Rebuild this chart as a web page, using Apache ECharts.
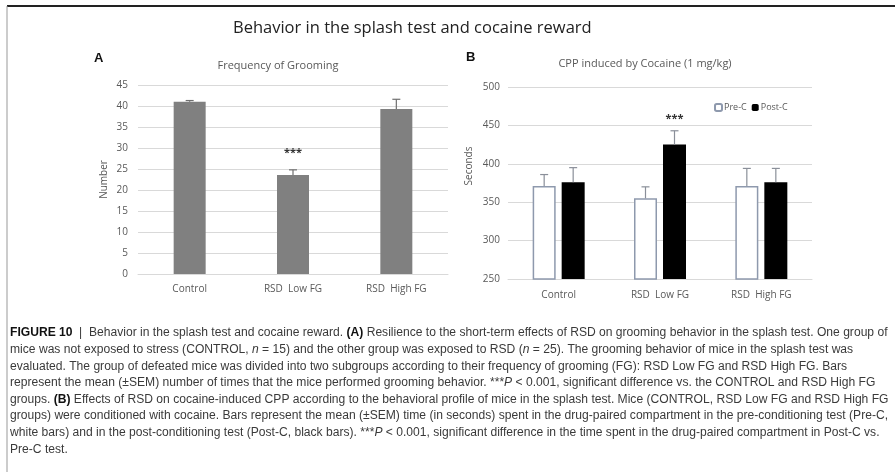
<!DOCTYPE html>
<html>
<head>
<meta charset="utf-8">
<title>Behavior in the splash test and cocaine reward</title>
<script src="https://cdn.jsdelivr.net/npm/echarts@6/dist/echarts.min.js"></script>
<style>
  html, body { margin: 0; padding: 0; background: #fff; }
  #chart { width: 895px; height: 472px; }
</style>
</head>
<body>
<div id="chart"></div>
<script>
  // data
  var categories = ["Control", "RSD  Low FG", "RSD  High FG"];
  var groomMean = [41, 23.6, 39.3];
  var groomSem = [0.3, 1.2, 2.3];
  var preC = [371, 355, 371];
  var preSem = [15, 15, 23];
  var postC = [376, 425, 376];
  var postSem = [19, 18, 18];
  var starsA = [null, "***", null];
  var starsB = [null, "***", null];

  var axisFont = "Open Sans";
  var labelColor = "#595959";
  var gridColor = "#d9d9d9";
  var barW = 23, barGapPx = 6;

  var caption = [
    "{b|FIGURE 10} {r| |  Behavior in the splash test and cocaine reward. }{b|(A)}{r| Resilience to the short-term effects of RSD on grooming behavior in the splash test. One group of}",
    "{r|mice was not exposed to stress (CONTROL, }{i|n}{r| = 15) and the other group was exposed to RSD (}{i|n}{r| = 25). The grooming behavior of mice in the splash test was}",
    "{r|evaluated. The group of defeated mice was divided into two subgroups according to their frequency of grooming (FG): RSD Low FG and RSD High FG. Bars}",
    "{r|represent the mean (±SEM) number of times that the mice performed grooming behavior. ***}{i|P}{r| < 0.001, significant difference vs. the CONTROL and RSD High FG}",
    "{r|groups. }{b|(B)}{r| Effects of RSD on cocaine-induced CPP according to the behavioral profile of mice in the splash test. Mice (CONTROL, RSD Low FG and RSD High FG}",
    "{r|groups) were conditioned with cocaine. Bars represent the mean (±SEM) time (in seconds) spent in the drug-paired compartment in the pre-conditioning test (Pre-C,}",
    "{r|white bars) and in the post-conditioning test (Post-C, black bars). ***}{i|P}{r| < 0.001, significant difference in the time spent in the drug-paired compartment in Post-C vs.}",
    "{r|Pre-C test.}"
  ];

  var capFont = "'Liberation Sans', sans-serif";
  var capSize = 12.5;
  var capRich = {
    r: { fontFamily: capFont, fontSize: capSize, fill: "#3a3a3a" },
    b: { fontFamily: capFont, fontSize: capSize, fontWeight: "bold", fill: "#111" },
    i: { fontFamily: capFont, fontSize: capSize, fontStyle: "italic", fill: "#3a3a3a" }
  };

  // the caption is set in a condensed face; squeeze Liberation Sans to the same line length
  var ctx = document.createElement("canvas").getContext("2d");
  ctx.font = capSize + "px 'Liberation Sans'";
  var plainFirst = caption[0].replace(/\{[a-z]\||\}/g, "");
  var capScale = 877 / ctx.measureText(plainFirst).width;

  var graphics = [
    { type: "line", shape: { x1: 7, y1: 6, x2: 895, y2: 6 }, style: { stroke: "#222", lineWidth: 2 } },
    { type: "line", shape: { x1: 7, y1: 6, x2: 7, y2: 472 }, style: { stroke: "#999", lineWidth: 1 } },
    { type: "text", left: 233, top: 20, style: { text: "Behavior in the splash test and cocaine reward", font: "16.5px 'Open Sans'", fill: "#222" } },
    { type: "text", left: 94, top: 52, style: { text: "A", font: "bold 13px 'Liberation Sans'", fill: "#111" } },
    { type: "text", left: 466, top: 51, style: { text: "B", font: "bold 13px 'Liberation Sans'", fill: "#111" } },
    { type: "text", x: 469, y: 166, rotation: Math.PI / 2, style: { text: "Seconds", font: "10px 'Open Sans'", fill: labelColor, align: "center", verticalAlign: "middle" } }
  ];
  caption.forEach(function (line, i) {
    graphics.push({
      type: "text", x: 10, y: 333 + i * 16.6, scaleX: capScale,
      style: { text: line, rich: capRich, verticalAlign: "middle" }
    });
  });

  // error bar drawn upward from the mean, with a cap
  function errorBar(means, sems, xOffset, color) {
    return function (params, api) {
      var i = params.dataIndex;
      var base = api.coord([i, means[i]]);
      var top = api.coord([i, means[i] + sems[i]]);
      var x = base[0] + xOffset;
      return {
        type: "group",
        children: [
          { type: "line", shape: { x1: x, y1: base[1], x2: x, y2: top[1] }, style: { stroke: color, lineWidth: 1.2 } },
          { type: "line", shape: { x1: x - 4, y1: top[1], x2: x + 4, y2: top[1] }, style: { stroke: color, lineWidth: 1.2 } }
        ]
      };
    };
  }

  function starLabel(stars, means, sems, xOffset, gap) {
    return function (params, api) {
      var i = params.dataIndex;
      if (!stars[i]) return null;
      var p = api.coord([i, means[i] + sems[i]]);
      return { type: "text", style: { text: stars[i], x: p[0] + xOffset, y: p[1] - gap, align: "center", verticalAlign: "middle", font: "bold 11px 'Open Sans'", fill: "#333" } };
    };
  }

  var chart = echarts.init(document.getElementById("chart"));
  var half = (barW + barGapPx) / 2;

  chart.setOption({
    animation: false,
    backgroundColor: "#fff",
    title: [
      { text: "Frequency of Grooming", left: 273, top: 55, textAlign: "center", textStyle: { fontFamily: axisFont, fontSize: 11, fontWeight: "normal", color: labelColor } },
      { text: "CPP induced by Cocaine (1 mg/kg)", left: 640, top: 53, textAlign: "center", textStyle: { fontFamily: axisFont, fontSize: 11, fontWeight: "normal", color: labelColor } }
    ],
    legend: {
      left: 709, top: 98, itemWidth: 7, itemHeight: 7, itemGap: 5,
      data: ["Pre-C", "Post-C"],
      textStyle: { fontFamily: axisFont, fontSize: 9, color: labelColor, padding: [0, 0, 0, -3] }
    },
    grid: [
      { left: 138, right: 447, top: 85, bottom: 198 },
      { left: 508, right: 83, top: 87, bottom: 193 }
    ],
    xAxis: [
      {
        gridIndex: 0, type: "category", data: categories,
        axisLine: { lineStyle: { color: gridColor } }, axisTick: { show: false },
        axisLabel: { fontFamily: axisFont, fontSize: 10, color: labelColor, margin: 10 }
      },
      {
        gridIndex: 1, type: "category", data: categories,
        axisLine: { lineStyle: { color: gridColor } }, axisTick: { show: false },
        axisLabel: { fontFamily: axisFont, fontSize: 10, color: labelColor, margin: 11 }
      }
    ],
    yAxis: [
      {
        gridIndex: 0, type: "value", min: 0, max: 45, interval: 5,
        name: "Number", nameLocation: "middle", nameGap: 29,
        nameTextStyle: { fontFamily: axisFont, fontSize: 10, color: labelColor },
        axisLine: { show: false }, axisTick: { show: false },
        axisLabel: { fontFamily: axisFont, fontSize: 10, color: labelColor, margin: 10 },
        splitLine: { lineStyle: { color: gridColor } }
      },
      {
        gridIndex: 1, type: "value", min: 250, max: 500, interval: 50,
        axisLine: { show: false }, axisTick: { show: false },
        axisLabel: { fontFamily: axisFont, fontSize: 10, color: labelColor, margin: 8 },
        splitLine: { lineStyle: { color: gridColor } }
      }
    ],
    graphic: graphics,
    series: [
      {
        name: "Frequency", type: "bar", xAxisIndex: 0, yAxisIndex: 0,
        data: groomMean, barWidth: 32,
        itemStyle: { color: "#808080" }
      },
      {
        type: "custom", xAxisIndex: 0, yAxisIndex: 0, data: groomMean,
        renderItem: errorBar(groomMean, groomSem, 0, "#6f6f6f"), z: 3
      },
      {
        type: "custom", xAxisIndex: 0, yAxisIndex: 0, data: groomMean,
        renderItem: starLabel(starsA, groomMean, groomSem, 0, 17), z: 3
      },
      {
        name: "Pre-C", type: "bar", xAxisIndex: 1, yAxisIndex: 1,
        data: preC, barWidth: barW, barGap: (barGapPx / barW * 100) + "%",
        itemStyle: { color: "#fff", borderColor: "#8e99ad", borderWidth: 1.5 }
      },
      {
        name: "Post-C", type: "bar", xAxisIndex: 1, yAxisIndex: 1,
        data: postC, barWidth: barW,
        itemStyle: { color: "#000" }
      },
      {
        type: "custom", xAxisIndex: 1, yAxisIndex: 1, data: preC,
        renderItem: errorBar(preC, preSem, -half, "#8a8f99"), z: 3
      },
      {
        type: "custom", xAxisIndex: 1, yAxisIndex: 1, data: postC,
        renderItem: errorBar(postC, postSem, half, "#8a8f99"), z: 3
      },
      {
        type: "custom", xAxisIndex: 1, yAxisIndex: 1, data: postC,
        renderItem: starLabel(starsB, postC, postSem, half, 12), z: 3
      }
    ]
  });
</script>
</body>
</html>
